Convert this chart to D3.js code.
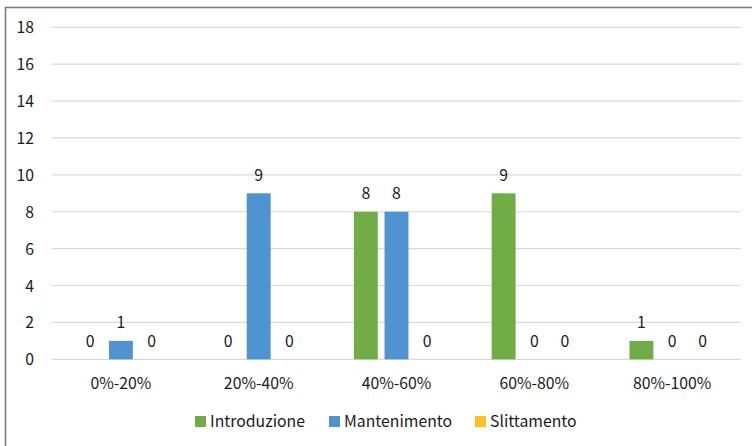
<!DOCTYPE html>
<html>
<head>
<meta charset="utf-8">
<script src="https://cdn.jsdelivr.net/npm/d3@7/dist/d3.min.js"></script>
<style>
  html, body { margin: 0; padding: 0; background: #fff; }
  svg { display: block; }
  text { font-family: "Noto Sans CJK SC", "Noto Sans", sans-serif; fill: #1a1a1a; }
</style>
</head>
<body>
<svg id="chart" width="752" height="446"></svg>
<script>
// Range buckets on the x axis
const categories = ["0%-20%", "20%-40%", "40%-60%", "60%-80%", "80%-100%"];
// Series names and colours
const seriesNames = ["Introduzione", "Mantenimento", "Slittamento"];
const seriesColors = ["#70ad47", "#4f94d0", "#fcbf26"];
// Counts per bucket, one array per series
const introduzione = [0, 0, 8, 9, 1];
const mantenimento = [1, 9, 8, 0, 0];
const slittamento = [0, 0, 0, 0, 0];
// Y axis ticks
const yTicks = [0, 2, 4, 6, 8, 10, 12, 14, 16, 18];

const FONT = "Noto Sans CJK SC, Noto Sans, sans-serif";
const FS = 15.8;

const seriesValues = [introduzione, mantenimento, slittamento];
const rows = categories.map((c, i) => ({
  cat: c,
  vals: seriesNames.map((s, j) => ({ key: s, value: seriesValues[j][i], color: seriesColors[j] }))
}));

const svg = d3.select("#chart");

// Outer frame (top and left edges)
svg.append("path")
  .attr("d", "M5.5,446 L5.5,7.5 L752,7.5")
  .attr("fill", "none")
  .attr("stroke", "#7a7a7a")
  .attr("stroke-width", 1.5);

const plot = { left: 52, right: 741, top: 27.3, bottom: 359.3 };

const y = d3.scaleLinear().domain([0, 18]).range([plot.bottom, plot.top]);
const x0 = d3.scaleBand().domain(categories).range([plot.left, plot.right]).padding(0);
const x1 = d3.scaleBand().domain(seriesNames)
  .range([x0.bandwidth() / 2 - 46, x0.bandwidth() / 2 + 46])
  .paddingInner(0.22).paddingOuter(0.11);

// Gridlines
svg.append("g")
  .selectAll("line")
  .data(yTicks)
  .join("line")
  .attr("x1", plot.left).attr("x2", plot.right)
  .attr("y1", d => y(d)).attr("y2", d => y(d))
  .attr("stroke", "#d9d9d9")
  .attr("stroke-width", 1.2);

// Y axis labels
const yAxis = d3.axisLeft(y).tickValues(yTicks).tickSize(0).tickPadding(0);
const gy = svg.append("g").attr("transform", "translate(34,0)").call(yAxis);
gy.select(".domain").remove();
gy.selectAll("text")
  .attr("font-size", FS)
  .attr("font-family", FONT)
  .attr("fill", "#1a1a1a")
  .attr("dy", "0.35em");

// X axis labels
const xAxis = d3.axisBottom(x0).tickSize(0).tickPadding(0);
const gx = svg.append("g").attr("transform", `translate(0,${plot.bottom})`).call(xAxis);
gx.select(".domain").remove();
gx.selectAll("text")
  .attr("font-size", FS)
  .attr("font-family", FONT)
  .attr("fill", "#1a1a1a")
  .attr("y", 24)
  .attr("dy", "0.35em");

// Bars and value labels
const groups = svg.append("g")
  .selectAll("g")
  .data(rows)
  .join("g")
  .attr("transform", d => `translate(${x0(d.cat)},0)`);

groups.selectAll("rect")
  .data(d => d.vals)
  .join("rect")
  .attr("x", d => x1(d.key))
  .attr("width", x1.bandwidth())
  .attr("y", d => y(d.value))
  .attr("height", d => y(0) - y(d.value))
  .attr("fill", d => d.color);

groups.selectAll("text")
  .data(d => d.vals)
  .join("text")
  .attr("x", d => x1(d.key) + x1.bandwidth() / 2)
  .attr("y", d => y(d.value) - 18)
  .attr("dy", "0.35em")
  .attr("text-anchor", "middle")
  .attr("font-size", FS)
  .text(d => d.value);

// Legend
const legendX = [195, 329, 475];
const legend = svg.append("g")
  .selectAll("g")
  .data(seriesNames)
  .join("g")
  .attr("transform", (d, i) => `translate(${legendX[i]},416)`);
legend.append("rect")
  .attr("width", 11).attr("height", 11)
  .attr("fill", (d, i) => seriesColors[i]);
legend.append("text")
  .attr("x", 15).attr("y", 5.5)
  .attr("dy", "0.35em")
  .attr("font-size", FS)
  .text(d => d);
</script>
</body>
</html>
